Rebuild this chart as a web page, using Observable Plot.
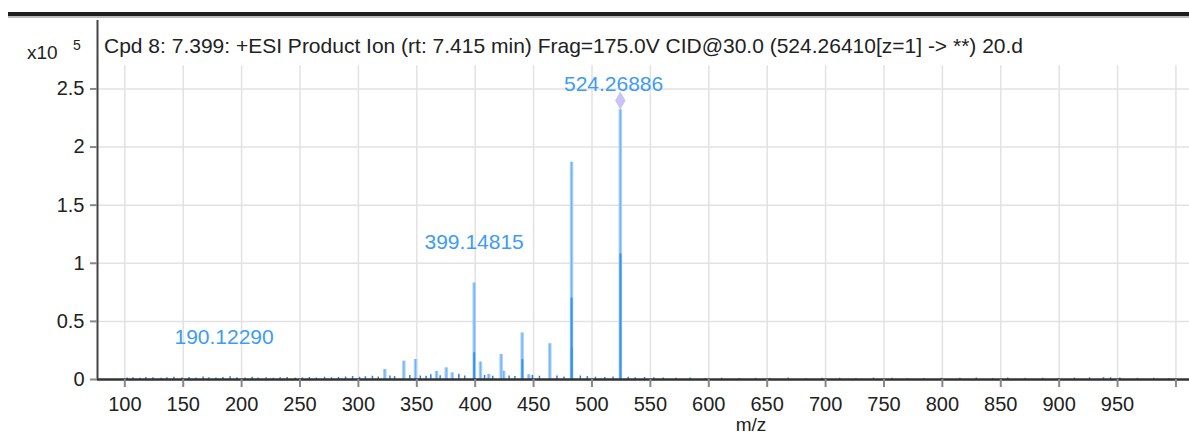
<!DOCTYPE html>
<html><head><meta charset="utf-8">
<script src="https://cdn.jsdelivr.net/npm/d3@7"></script>
<script src="https://cdn.jsdelivr.net/npm/@observablehq/plot@0.6"></script>
<style>body{margin:0;background:#fff;overflow:hidden}</style>
</head><body><div id="chart"></div>
<script>
const titleText = "Cpd 8: 7.399: +ESI Product Ion (rt: 7.415 min) Frag=175.0V CID@30.0 (524.26410[z=1] -> **) 20.d";
const xAxisLabel = "m/z";
const yScaleBase = "x10";
const yScaleExp = "5";

// main fragment peaks (m/z, intensity x10^5)
const peakMz  = [322.6, 338.9, 348.9, 366.9, 375.2, 380.3, 399.15, 404.5, 411.6, 422.2, 424.4, 440.2, 445.9, 463.9, 482.5, 524.27];
const peakInt = [0.086, 0.158, 0.172, 0.070, 0.100, 0.057, 0.83,  0.150, 0.043, 0.215, 0.070, 0.400, 0.040, 0.307, 1.87,  2.32];

// darker cores of overlapping profile
const coreMz  = [399.15, 440.4, 482.5, 482.7, 524.4];
const coreInt = [0.23,   0.17,  0.70,  0.27,  1.08];

// baseline noise
const noiseMz  = [102,107,113,118,124,131,136,142,149,155,161,167,172,178,184,190.12,196,203,209,214,221,227,233,239,246,252,258,264,271,277,283,289,295,301,306,312,317,327,331,344,353,358,362,370,386,391,408,415,429,434,449,455,470,476,490,496,503,511,518,531,537,545,553,561,572,584,597,611,626,640,652,668,683,697,712,726,741,757,770,784,799,815,829,843,856,871,886,899,913,926,938,944,952,967,981,994];
const noiseInt = [0.012,0.015,0.010,0.018,0.014,0.011,0.016,0.020,0.013,0.017,0.012,0.022,0.015,0.013,0.018,0.024,0.014,0.012,0.019,0.013,0.016,0.011,0.015,0.018,0.012,0.014,0.017,0.013,0.020,0.015,0.018,0.022,0.026,0.019,0.024,0.028,0.021,0.030,0.025,0.035,0.030,0.028,0.040,0.032,0.045,0.030,0.035,0.028,0.030,0.025,0.035,0.028,0.030,0.022,0.030,0.025,0.020,0.018,0.022,0.020,0.016,0.018,0.014,0.012,0.010,0.012,0.009,0.011,0.008,0.010,0.009,0.012,0.008,0.010,0.011,0.009,0.012,0.010,0.008,0.009,0.011,0.010,0.012,0.009,0.013,0.010,0.011,0.008,0.012,0.014,0.016,0.015,0.012,0.010,0.011,0.009];

// annotations (label text, and where the software placed it in data units)
const labelText = ["190.12290", "399.14815", "524.26886"];
const labelX    = [185.0, 399.1, 518.5];
const labelY    = [0.365, 1.18, 2.54];
const precursorMz = [524.26886];
const precursorInt = [2.40];

const xTicks = [100,150,200,250,300,350,400,450,500,550,600,650,700,750,800,850,900,950,1000];
const xTickLabels = ["100","150","200","250","300","350","400","450","500","550","600","650","700","750","800","850","900","950",""];
const yTicks = [0, 0.5, 1, 1.5, 2, 2.5];
const yTickLabels = ["0","0.5","1","1.5","2","2.5"];

const peaks = peakMz.map((m,i)=>({mz:m, v:peakInt[i]}));
const cores = coreMz.map((m,i)=>({mz:m, v:coreInt[i]}));
const noise = noiseMz.map((m,i)=>({mz:m, v:noiseInt[i]}));
const labels = labelText.map((t,i)=>({t, x:labelX[i], y:labelY[i]}));
const prec = precursorMz.map((m,i)=>({mz:m, v:precursorInt[i]}));

const xDomain = [76.6, 1011.6];
const yTop = 3.089;
const gridTop = 2.70;
const FONT = "'Liberation Sans', Arial, sans-serif";

const plot = Plot.plot({
  width: 1189, height: 435,
  marginLeft: 97, marginRight: 0, marginTop: 20, marginBottom: 56,
  style: {fontFamily: FONT, fontSize: "20px", color: "#222", background: "#fff"},
  x: {domain: xDomain},
  y: {domain: [0, yTop]},
  marks: [
    Plot.ruleX(xTicks, {x: d=>d, y1: 0, y2: gridTop, stroke: "#e2e2e2", strokeWidth: 1.5}),
    Plot.ruleY(yTicks.slice(1), {y: d=>d, stroke: "#e2e2e2", strokeWidth: 1.5}),
    Plot.ruleX(noise, {x: "mz", y1: 0, y2: "v", stroke: "#2a7fe0", strokeWidth: 1.5}),
    Plot.ruleX(peaks, {x: "mz", y1: 0, y2: "v", stroke: "#a9d1fb", strokeWidth: 3.5}),
    Plot.ruleX(peaks, {x: "mz", y1: 0, y2: "v", stroke: "#6fb3f8", strokeWidth: 1.2}),
    Plot.ruleX(cores, {x: "mz", y1: 0, y2: "v", stroke: "#3592f2", strokeWidth: 2}),
    Plot.dot(prec, {x: "mz", y: "v", symbol: "diamond", fill: "#c9c3f7", r: 5.5, stroke: "none"}),
    Plot.text(labels, {x: "x", y: "y", text: "t", fill: "#3d9cf5", fontSize: 21}),
    Plot.ruleY([0], {stroke: "#333", strokeWidth: 2.5}),
    Plot.ruleX([xDomain[0]], {stroke: "#444", strokeWidth: 2}),
    Plot.axisX({ticks: xTicks, tickFormat: d=>xTickLabels[xTicks.indexOf(d)], label: null, tickSize: 8, tickPadding: 9, stroke: "#888", strokeWidth: 2, fontSize: 20, fill: "#222"}),
    Plot.axisY({ticks: yTicks, tickFormat: d=>yTickLabels[yTicks.indexOf(d)], label: null, tickSize: 7, tickPadding: 6, stroke: "#888", strokeWidth: 2, fontSize: 20, fill: "#222"})
  ]
});
document.getElementById("chart").append(plot);
const svg = d3.select(plot);
svg.append("rect").attr("x", 8).attr("y", 12).attr("width", 1181).attr("height", 4).attr("fill", "#1e1e1e");
svg.append("rect").attr("x", 8).attr("y", 16).attr("width", 1181).attr("height", 2).attr("fill", "#bbb");
const addText = (x, y, size, txt, anchor="start") => svg.append("text").attr("x", x).attr("y", y)
  .attr("font-size", size).attr("font-family", FONT).attr("text-anchor", anchor).attr("fill", "#222").text(txt);
addText(104, 53, 21, titleText);
addText(27, 59, 19, yScaleBase);
addText(73, 50, 14, yScaleExp);
addText(751, 431, 19, xAxisLabel, "middle");
</script></body></html>
